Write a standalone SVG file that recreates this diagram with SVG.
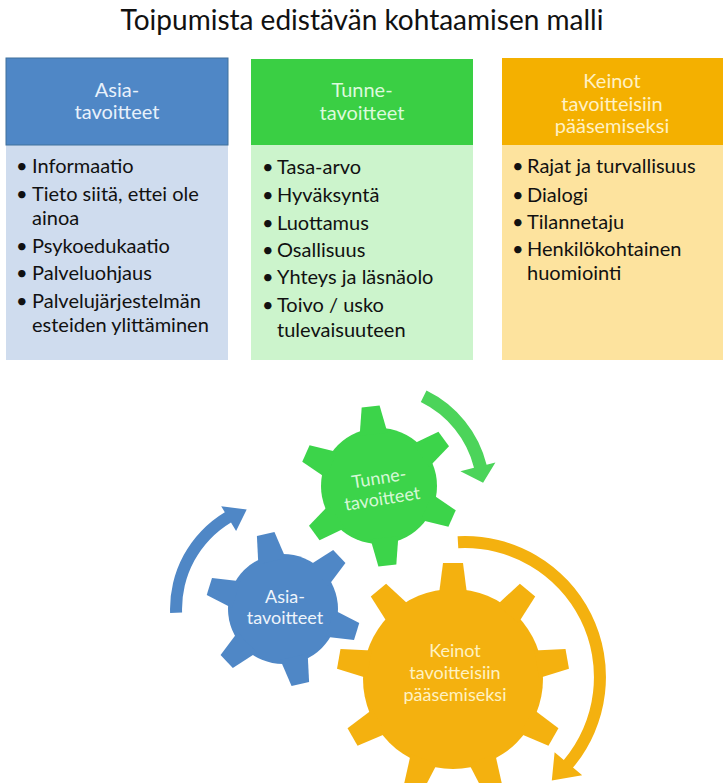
<svg xmlns="http://www.w3.org/2000/svg" width="724" height="783" viewBox="0 0 724 783">
<style>
text{font-family:Lato,"Liberation Sans",sans-serif}
.title{font-size:28px;fill:#111}
.hd{font-size:20px;text-anchor:middle}
.bt{font-size:20px;fill:#111}
.gt{font-size:18px;text-anchor:middle}
</style>
<rect width="724" height="783" fill="#fff"/>
<text class="title" x="362" y="30" text-anchor="middle">Toipumista edistävän kohtaamisen malli</text>

<g id="box-asia">
<rect x="6" y="145" width="222" height="215" fill="#cfdcee"/>
<rect x="6" y="58" width="222" height="87" fill="#4f87c6" stroke="#41719c" stroke-width="1"/>
<text class="hd" fill="#e8f1fb" x="117" y="97">Asia-</text>
<text class="hd" fill="#e8f1fb" x="117" y="119">tavoitteet</text>
<g class="bt">
<text x="16" y="173">•</text><text x="32" y="173">Informaatio</text>
<text x="16" y="201">•</text><text x="32" y="201">Tieto siitä, ettei ole</text>
<text x="32" y="225">ainoa</text>
<text x="16" y="253">•</text><text x="32" y="253">Psykoedukaatio</text>
<text x="16" y="280">•</text><text x="32" y="280">Palveluohjaus</text>
<text x="16" y="308">•</text><text x="32" y="308">Palvelujärjestelmän</text>
<text x="32" y="332">esteiden ylittäminen</text>
</g>
</g>

<g id="box-tunne">
<rect x="251" y="145" width="222" height="215" fill="#ccf4cc"/>
<rect x="251" y="59" width="222" height="86" fill="#3acf44"/>
<text class="hd" fill="#dcfadc" x="362" y="97">Tunne-</text>
<text class="hd" fill="#dcfadc" x="362" y="120">tavoitteet</text>
<g class="bt">
<text x="262" y="174">•</text><text x="277" y="174">Tasa-arvo</text>
<text x="262" y="202">•</text><text x="277" y="202">Hyväksyntä</text>
<text x="262" y="230">•</text><text x="277" y="230">Luottamus</text>
<text x="262" y="257">•</text><text x="277" y="257">Osallisuus</text>
<text x="262" y="284">•</text><text x="277" y="284">Yhteys ja läsnäolo</text>
<text x="262" y="312">•</text><text x="277" y="312">Toivo / usko</text>
<text x="277" y="337">tulevaisuuteen</text>
</g>
</g>

<g id="box-keinot">
<rect x="502" y="145" width="221" height="215" fill="#fde39e"/>
<rect x="502" y="58" width="221" height="87" fill="#f4b000"/>
<text class="hd" fill="#fff1c4" x="612" y="88">Keinot</text>
<text class="hd" fill="#fff1c4" x="612" y="111">tavoitteisiin</text>
<text class="hd" fill="#fff1c4" x="612" y="133">pääsemiseksi</text>
<g class="bt">
<text x="512" y="173">•</text><text x="527" y="173">Rajat ja turvallisuus</text>
<text x="512" y="202">•</text><text x="527" y="202">Dialogi</text>
<text x="512" y="229">•</text><text x="527" y="229">Tilannetaju</text>
<text x="512" y="256">•</text><text x="527" y="256">Henkilökohtainen</text>
<text x="527" y="280">huomiointi</text>
</g>
</g>

<g id="connectors">
<path id="arrow-blue" fill="#4f87c6" d="M170.1 612.9 A113 113 0 0 1 224.8 512.2 L221.2 506.2 L246.7 509.4 L236.1 531.0 L231.0 522.4 A101 101 0 0 0 182.1 612.5 Z"/>
<path id="arrow-green" fill="#4cd45a" d="M426.5 390.4 A113 113 0 0 1 486.6 464.7 L495.4 462.5 L483.1 482.7 L460.4 471.2 L474.0 467.8 A100 100 0 0 0 420.8 402.1 Z"/>
<path id="arrow-yellow" fill="#f4b10f" d="M457.6 536.2 A141 141 0 0 1 573.0 767.6 L582.2 775.3 L551.8 780.4 L554.6 752.2 L563.8 759.9 A129 129 0 0 0 458.3 548.2 Z"/>
</g>

<g id="gear-keinot" fill="#f4b10f">
<g transform="translate(453 679)">
<circle r="90"/>
<polygon id="ty" points="-14,-85 -10,-116 10,-116 14,-85"/>
<polygon points="-14,-85 -10,-116 10,-116 14,-85" transform="rotate(40)"/>
<polygon points="-14,-85 -10,-116 10,-116 14,-85" transform="rotate(80)"/>
<polygon points="-14,-85 -10,-116 10,-116 14,-85" transform="rotate(120)"/>
<polygon points="-14,-85 -10,-116 10,-116 14,-85" transform="rotate(160)"/>
<polygon points="-14,-85 -10,-116 10,-116 14,-85" transform="rotate(200)"/>
<polygon points="-14,-85 -10,-116 10,-116 14,-85" transform="rotate(240)"/>
<polygon points="-14,-85 -10,-116 10,-116 14,-85" transform="rotate(280)"/>
<polygon points="-14,-85 -10,-116 10,-116 14,-85" transform="rotate(320)"/>
</g>
<text class="gt" fill="#fff2c2" x="455" y="657">Keinot</text>
<text class="gt" fill="#fff2c2" x="455" y="679">tavoitteisiin</text>
<text class="gt" fill="#fff2c2" x="455" y="701">pääsemiseksi</text>
</g>

<g id="gear-tunne" fill="#3cd44a">
<g transform="translate(379 486)">
<circle r="58"/>
<polygon points="-14,-52 -9,-80 9,-80 14,-52" transform="rotate(-6)"/>
<polygon points="-14,-52 -9,-80 9,-80 14,-52" transform="rotate(54)"/>
<polygon points="-14,-52 -9,-80 9,-80 14,-52" transform="rotate(114)"/>
<polygon points="-14,-52 -9,-80 9,-80 14,-52" transform="rotate(174)"/>
<polygon points="-14,-52 -9,-80 9,-80 14,-52" transform="rotate(234)"/>
<polygon points="-14,-52 -9,-80 9,-80 14,-52" transform="rotate(294)"/>
</g>
<g transform="rotate(-9 381 491)">
<text class="gt" fill="#d6f8d6" x="381" y="484">Tunne-</text>
<text class="gt" fill="#d6f8d6" x="381" y="505">tavoitteet</text>
</g>
</g>

<g id="gear-asia" fill="#4f87c6">
<g transform="translate(283 609)">
<circle r="55"/>
<polygon points="-14,-49 -9,-77 9,-77 14,-49" transform="rotate(-13)"/>
<polygon points="-14,-49 -9,-77 9,-77 14,-49" transform="rotate(47)"/>
<polygon points="-14,-49 -9,-77 9,-77 14,-49" transform="rotate(107)"/>
<polygon points="-14,-49 -9,-77 9,-77 14,-49" transform="rotate(167)"/>
<polygon points="-14,-49 -9,-77 9,-77 14,-49" transform="rotate(227)"/>
<polygon points="-14,-49 -9,-77 9,-77 14,-49" transform="rotate(287)"/>
</g>
<text class="gt" fill="#eef4fb" x="285" y="603">Asia-</text>
<text class="gt" fill="#eef4fb" x="285" y="624">tavoitteet</text>
</g>
</svg>
